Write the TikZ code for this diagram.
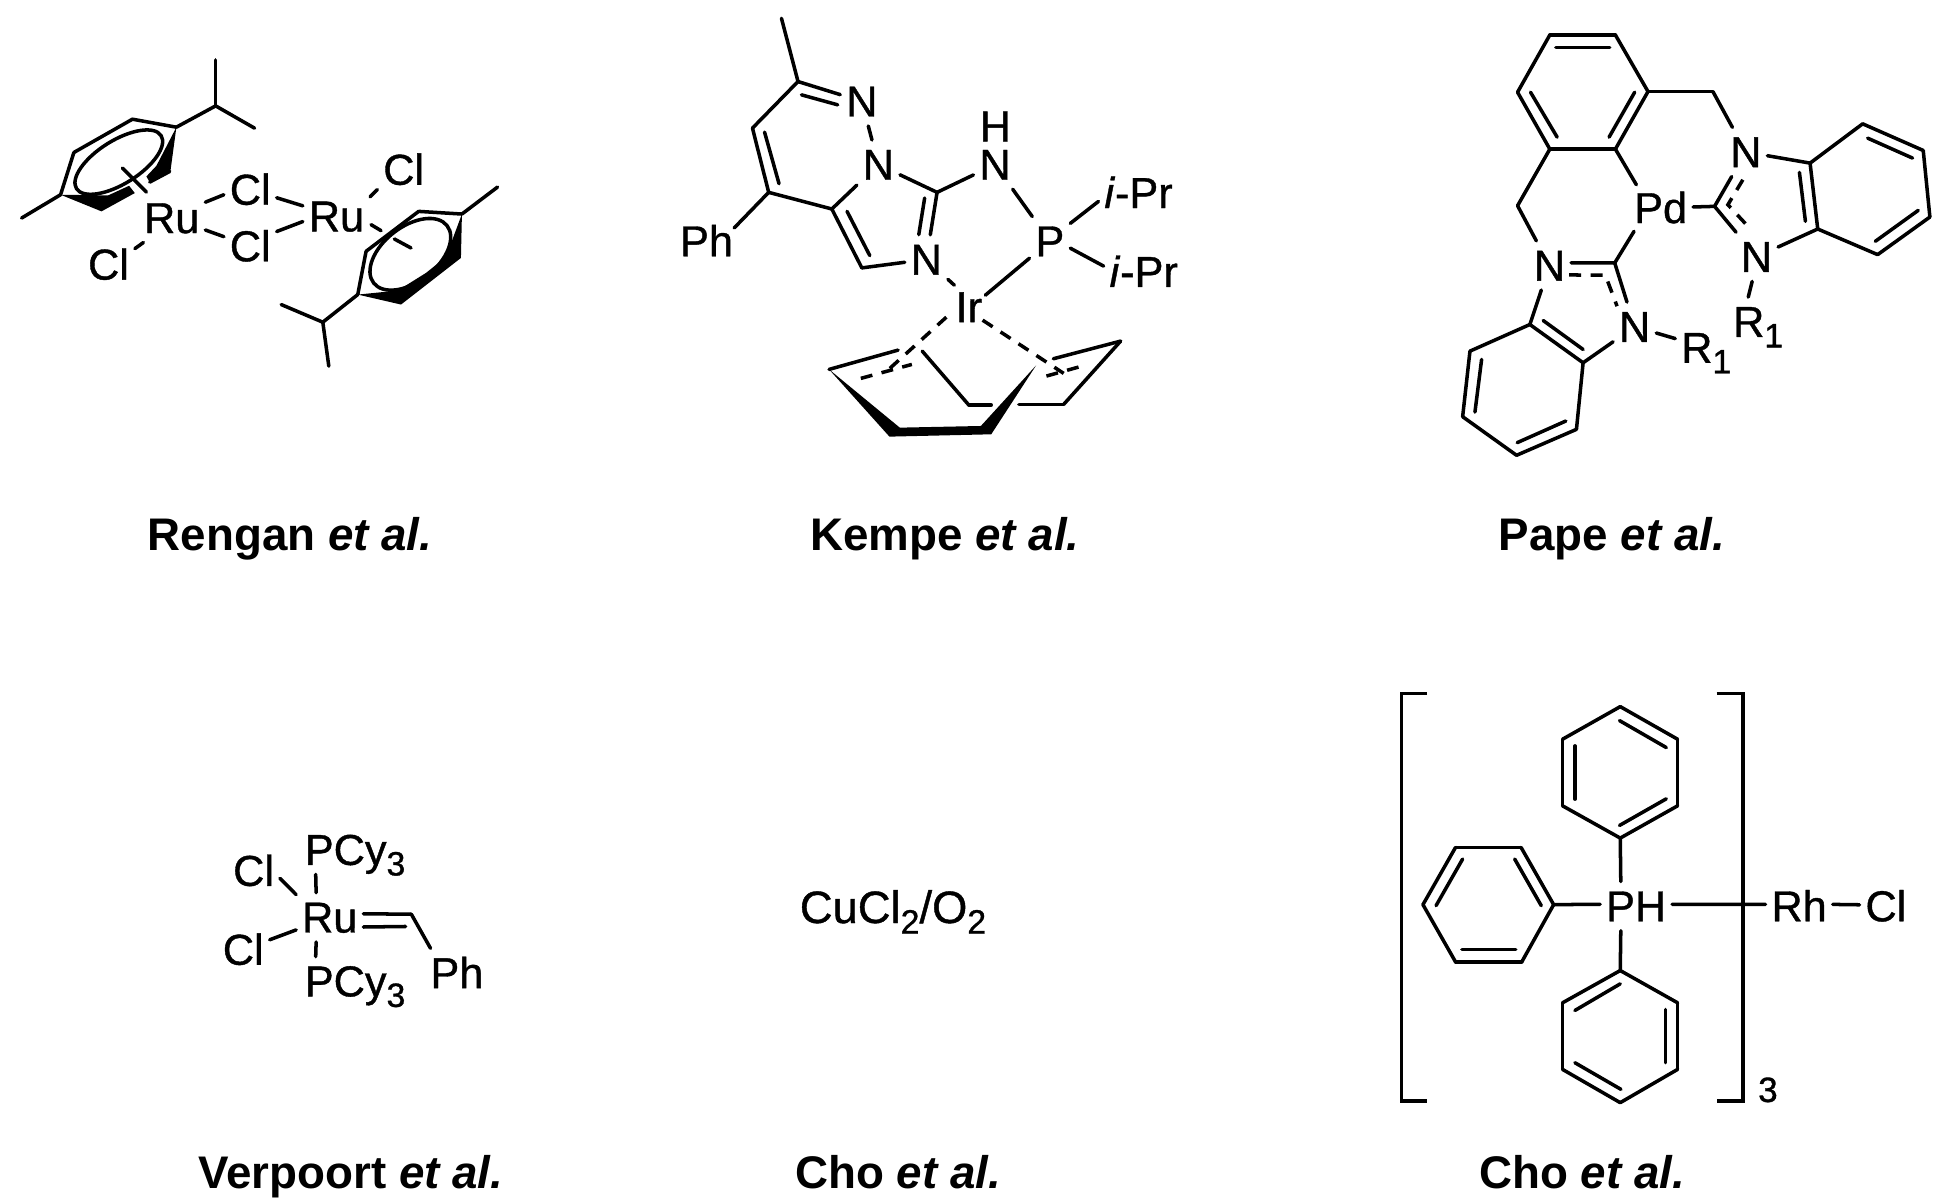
\documentclass[tikz,border=0pt]{standalone}
\usepackage{fontspec}
\setmainfont{Liberation Sans}
\newfontfamily\atomfont[FakeBold=0.9]{Liberation Sans}

\newcommand{\subnum}[1]{\raisebox{-3pt}{\fontsize{9.6}{10}\selectfont #1}}

\tikzset{
    crop/.style={shift={(#1)},x=0.003333cm,y=-0.003333cm},
    bond/.style={line width=1pt,line cap=round},
    dashbond/.style={line width=1pt,dash pattern=on 3.4pt off 2.7pt},
    atom/.style={font=\fontsize{12.3}{14}\selectfont\atomfont,anchor=base,inner xsep=1.5pt,inner ysep=2.5pt,text height=8.6pt,text depth=0pt},
    credit/.style={font=\fontsize{13}{15}\selectfont\bfseries,anchor=base,inner sep=0pt},
}

\begin{document}
\begin{tikzpicture}[x=0.01cm,y=-0.01cm]
    \useasboundingbox (0,0) rectangle (1945,1203);

    \node[credit] (cap1) at (290,550) {Rengan \textit{et al.}};
    \node[credit] (cap2) at (945,550) {Kempe \textit{et al.}};
    \node[credit] (cap3) at (1612,550) {Pape \textit{et al.}};
    \node[credit] (cap4) at (351,1188) {Verpoort \textit{et al.}};
    \node[credit] (cap5) at (898,1188) {Cho \textit{et al.}};
    \node[credit] (cap6) at (1582,1188) {Cho \textit{et al.}};
    \node[atom,font=\fontsize{12.9}{14}\selectfont\atomfont] (cucl) at (893,923) {CuCl\subnum{2}/O\subnum{2}};

    % ruthenium dimer
    \begin{scope}[crop={0,30}]
        \node[atom] (Ru1) at (516,610) {Ru};
        \node[atom] (Ru2) at (1011,605) {Ru};
        \node[atom] (Cl1) at (326,750) {Cl};
        \node[atom] (Cl2) at (752,525) {Cl};
        \node[atom] (Cl3) at (752,695) {Cl};
        \node[atom] (Cl4) at (1213,465) {Cl};
        \foreach \n/\x/\y in {a1/182/495,a2/222/368,a3/398/268,a4/530/292,a5/510/425,a6/450/457,
            a7/65/565,a8/648/228,a9/648/90,a10/765/295,a11/368/415,a12/440/487,
            b1/1075/795,b2/1100/665,b3/1258/545,b4/1388/553,b5/1495/472,
            b6/970/878,b7/845/825,b8/988/1010,b9/1115/585,b10/1145/603,b11/1185/628,b12/1235/655}
            \coordinate (\n) at (\x,\y);
        \foreach \s/\e in {a1/a2,a2/a3,a3/a4,a5/a6,a1/a7,a4/a8,a8/a9,a8/a10,a11/a12,
            b1/b2,b2/b3,b3/b4,b4/b5,b1/b6,b6/b7,b6/b8,b9/b10,b11/b12,
            Ru1.25/Cl2.191,Ru1/Cl3,Cl2/Ru2,Cl3.29/Ru2.189,Ru1.221/Cl1.31,Ru2.30/Cl4.217}
            \draw[bond] (\s) -- (\e);
        \fill (182,495) -- (305,545) -- (405,490) -- (388,468) -- (325,497) -- cycle;
        \fill (530,292) -- (512,425) -- (450,458) -- (440,440) -- (470,408) -- cycle;
        \fill (1388,553) -- (1385,685) -- (1205,825) -- (1075,795) -- (1195,783) -- (1280,730) -- (1340,682) -- cycle;
        \draw[bond,rotate around={32:(357,397)}] (357,397) ellipse [x radius=150,y radius=65];
        \draw[bond,rotate around={38:(1233,674)}] (1233,674) ellipse [x radius=140,y radius=82];
    \end{scope}

    % iridium complex
    \begin{scope}[crop={660,0},x=0.003444cm]
        \node[atom] (N1) at (585,350) {N};
        \node[atom] (N2) at (633,540) {N};
        \node[atom] (N3) at (971,540) {N};
        \node[atom] (H1) at (972,425) {H};
        \node[atom] (N4) at (772,825) {N};
        \node[atom] (P1) at (1130,770) {P};
        \node[atom] (Ir1) at (895,968) {Ir};
        \node[atom] (Ph1) at (135,770) {Ph};
        \node[atom] (iPr1) at (1387,625) {\textit{i}-Pr};
        \node[atom] (iPr2) at (1402,862) {\textit{i}-Pr};
        \foreach \n/\x/\y in {c1/400/245,c2/268/385,c3/315/578,c4/498/628,c5/585/805,c6/803/578,
            c7/352/55,c8/215/685,c9/410/285,c10/515/315,c11/303/397,c12/345/552,c13/542/635,c14/608/768,
            c15/767/595,c16/750/705,c17/853/857,c18/943/887,
            d1/490/1110,d2/690/1052,d3/760/1055,d4/895/1217,d5/960/1217,d6/1040/1215,d7/1170/1215,
            d8/1335/1025,d9/1140/1078}
            \coordinate (\n) at (\x,\y);
        \foreach \s/\e in {c1/c7,c1/c2,c2/c3,c3/c4,c4/c5,c3/c8,c9/c10,c11/c12,c13/c14,c15/c16,
            c1/N1,N1/N2,N2/c4,N2/c6,c6/N3,c6/N4,c5/N4,N3/P1,P1.41/iPr1.192,P1.-19/iPr2.172,
            P1/c18,N4/c17,d1/d2,d3/d4,d4/d5,d6/d7,d7/d8,d8/d9}
            \draw[bond] (\s) -- (\e);
        \coordinate (e1) at (830,953);
        \coordinate (e2) at (650,1122);
        \coordinate (e3) at (935,962);
        \coordinate (e4) at (1170,1122);
        \coordinate (e5) at (582,1137);
        \coordinate (e6) at (730,1095);
        \coordinate (e7) at (1120,1130);
        \coordinate (e8) at (1213,1103);
        \foreach \s/\e in {e1/e2,e3/e4,e5/e6,e7/e8}
            \draw[dashbond] (\s) -- (\e);
        \fill (490,1110) -- (665,1312) -- (960,1305) -- (1090,1098) -- (930,1280) -- (695,1285) -- cycle;
    \end{scope}

    % palladium pincer
    \begin{scope}[crop={1440,20}]
        \node[atom] (Pd1) at (663,610) {Pd};
        \node[atom] (N5) at (919,442) {N};
        \node[atom] (N6) at (951,757) {N};
        \node[atom] (N7) at (329,783) {N};
        \node[atom] (N8) at (585,967) {N};
        \node[atom] (Ra) at (956,952) {R\subnum{1}};
        \node[atom] (Rb) at (800,1030) {R\subnum{1}};
        \foreach \n/\x/\y in {f1/330/45,f2/527/45,f3/625/215,f4/527/388,f5/330/388,f6/233/217,
            f7/348/83,f8/510/83,f9/585/217,f10/508/352,f11/352/352,f12/272/217,
            f13/820/215,f14/233/558,f15/590/495,f16/583/635,
            h1/825/560,h2/525/730,
            j1/1112/430,j2/1270/312,j3/1452/392,j4/1472/592,j5/1315/705,j6/1135/628,
            j7/1080/458,j8/1098/605,j9/1285/355,j10/1420/415,j11/1437/572,j12/1308/665,
            k1/270/915,k2/90/995,k3/68/1192,k4/230/1308,k5/410/1230,k6/430/1030,
            k7/310/903,k8/430/990,k9/125/1020,k10/105/1178,k11/232/1270,k12/378/1205}
            \coordinate (\n) at (\x,\y);
        \foreach \s/\e in {f1/f2,f2/f3,f3/f4,f4/f5,f5/f6,f6/f1,f7/f8,f9/f10,f11/f12,
            f3/f13,f13/N5,f4/f15,f5/f14,f14/N7,Pd1/h1,f16/h2,h1/N5,h1/N6,
            N5/j1,j1/j2,j2/j3,j3/j4,j4/j5,j5/j6,j6/j1,N6/j6,j7/j8,j9/j10,j11/j12,N6.260/Ra.112,
            h2/N7.7,h2/N8,N7/k1,k1/k2,k2/k3,k3/k4,k4/k5,k5/k6,k6/k1,N8/k6,k7/k8,k9/k10,k11/k12,N8/Rb}
            \draw[bond] (\s) -- (\e);
        \draw[dashbond] (388,766) -- (497,767) -- (532,860);
        \draw[dashbond] (910,480) -- (865,555) -- (930,625);
    \end{scope}

    % carbene complex
    \begin{scope}[crop={200,810}]
        \node[atom] (Ru3) at (390,368) {Ru};
        \node[atom] (Cl5) at (161,228) {Cl};
        \node[atom] (Cl6) at (130,465) {Cl};
        \node[atom] (PCy1) at (466,165) {PCy\subnum{3}};
        \node[atom] (PCy2) at (466,560) {PCy\subnum{3}};
        \node[atom] (Ph2) at (772,535) {Ph};
        \coordinate (u1) at (635,313);
        \coordinate (u2) at (618,350);
        \foreach \s/\e in {Cl5.-16/Ru3.146,Cl6/Ru3,PCy1.212/Ru3.119,Ru3.241/PCy2.148,
            Ru3.6/u1,Ru3.-16/u2,u1/Ph2.137}
            \draw[bond] (\s) -- (\e);
    \end{scope}

    % wilkinson type complex
    \begin{scope}[crop={1390,680},x=0.003538cm]
        \node[atom] (PH1) at (695,725) {PH};
        \node[atom] (Rh1) at (1155,725) {Rh};
        \node[atom] (Cl7) at (1400,725) {Cl};
        \node[atom,font=\fontsize{10}{12}\selectfont\atomfont] (num3) at (1067,1268) {3};
        \foreach \n/\x/\y in {r1/650/80,r2/812/178,r3/812/378,r4/650/475,r5/487/378,r6/487/178,
            r7/648/122,r8/780/203,r9/780/357,r10/648/437,r11/522/358,r12/522/198,
            s1/462/675,s2/370/503,s3/185/503,s4/93/675,s5/185/847,s6/372/847,
            s7/352/538,s8/427/678,s9/205/538,s10/130/678,s11/203/810,s12/355/810,
            t1/650/873,t2/812/970,t3/812/1170,t4/650/1270,t5/487/1170,t6/487/970,
            t7/650/913,t8/522/993,t9/778/990,t10/778/1150,t11/652/1230,t12/522/1150}
            \coordinate (\n) at (\x,\y);
        \foreach \s/\e in {r1/r2,r2/r3,r3/r4,r4/r5,r5/r6,r6/r1,r7/r8,r9/r10,r11/r12,r4/PH1.122,
            s1/s2,s2/s3,s3/s4,s4/s5,s5/s6,s6/s1,s7/s8,s9/s10,s11/s12,s1/PH1.177,
            t1/t2,t2/t3,t3/t4,t4/t5,t5/t6,t6/t1,t7/t8,t9/t10,t11/t12,t1/PH1.238,
            PH1.3/Rh1.177,Rh1.3/Cl7.177}
            \draw[bond] (\s) -- (\e);
        \draw[line width=1pt] (105,40) -- (32,40) -- (32,1265) -- (105,1265);
        \draw[line width=1pt] (922,40) -- (997,40) -- (997,1265) -- (922,1265);
    \end{scope}
\end{tikzpicture}
\end{document}
